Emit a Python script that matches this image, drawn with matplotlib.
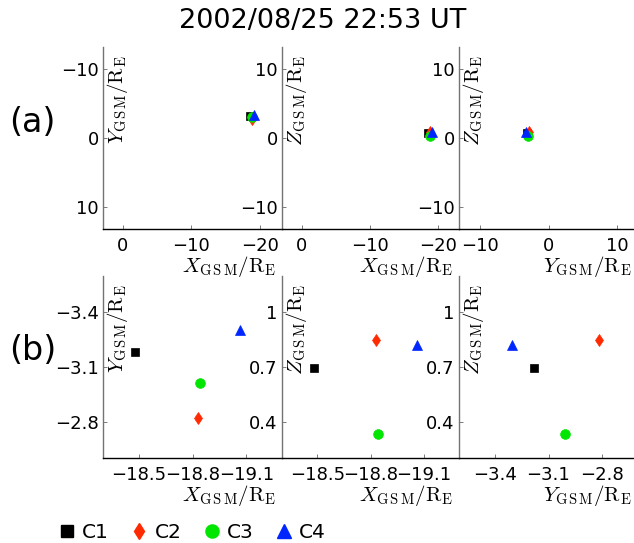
import matplotlib
matplotlib.use("Agg")
import matplotlib.pyplot as plt
from matplotlib.lines import Line2D

plt.rcParams['font.family'] = ['DejaVu Sans']
plt.rcParams['mathtext.fontset'] = 'cm'

title = "2002/08/25 22:53 UT"

# spacecraft positions (GSM, in Earth radii)
sc_names = ["C1", "C2", "C3", "C4"]
x_gsm = [-18.48, -18.83, -18.84, -19.065]
y_gsm = [-3.18, -2.82, -3.01, -3.305]
z_gsm = [0.695, 0.85, 0.33, 0.82]

sc_colors = ["#000000", "#ff2a00", "#00e600", "#0026ff"]
sc_markers = ["s", "d", "o", "^"]
sc_sizes = [6, 6, 7, 7.5]

# row (a) ticks
ticks_a = [-20, -10, 0, 10]
# row (b) ticks
x_ticks_b = [-18.5, -18.8, -19.1]
x_labels_b = ["\u221218.5", "\u221218.8", "\u221219.1"]
y_ticks_b = [-3.4, -3.1, -2.8]
y_labels_b = ["\u22123.4", "\u22123.1", "\u22122.8"]
z_ticks_b = [1.0, 0.7, 0.4]
z_labels_b = ["1", "0.7", "0.4"]

lab_x = r'$X_{\rm G\,S\,M}/{\rm R}_{\rm E}$'
lab_y = r'$Y_{\rm G\,S\,M}/{\rm R}_{\rm E}$'
lab_z = r'$Z_{\rm G\,S\,M}/{\rm R}_{\rm E}$'

fig = plt.figure(figsize=(6.34, 5.43), dpi=100)

W, H = 634.0, 543.0
lefts = [103, 282, 459]
widths = [179, 177, 179]
tops = [47, 276]
ph = 182


def make_ax(row, col):
    l = lefts[col] / W
    b = 1 - (tops[row] + ph) / H
    return fig.add_axes([l, b, widths[col] / W, ph / H])


def style(ax, xl, yl):
    for s in ['top', 'right']:
        ax.spines[s].set_visible(False)
    ax.spines['left'].set_color('0.45')
    ax.spines['bottom'].set_color('black')
    ax.spines['left'].set_linewidth(1.0)
    ax.spines['bottom'].set_linewidth(1.0)
    ax.tick_params(direction='in', length=3, width=0.6, color='0.4', labelsize=13)
    ax.tick_params(axis='x', pad=6)
    ax.tick_params(axis='y', pad=3)
    ax.patch.set_alpha(0)
    ax.text(0.012, 0.956, yl, rotation=90, ha='left', va='top',
            transform=ax.transAxes, fontsize=15)
    ax.text(0.966, -0.135, xl, ha='right', va='top',
            transform=ax.transAxes, fontsize=15)


def scatter(ax, xs, ys):
    for i in range(len(sc_names)):
        ax.plot(xs[i], ys[i], ls='none', marker=sc_markers[i], ms=sc_sizes[i],
                color=sc_colors[i], mec=sc_colors[i], mew=0.5)


pairs = [(x_gsm, y_gsm, lab_x, lab_y), (x_gsm, z_gsm, lab_x, lab_z),
         (y_gsm, z_gsm, lab_y, lab_z)]

# row (a): overview
xlims_a = [(2.9, -23.2), (2.9, -23.1), (-13.1, 13.1)]
ylims_a = [(13.2, -13.2), (-13.2, 13.2), (-13.2, 13.2)]
for col in range(3):
    ax = make_ax(0, col)
    xs, ys, xl, yl = pairs[col]
    scatter(ax, xs, ys)
    ax.set_xticks(ticks_a)
    ax.set_yticks(ticks_a)
    ax.set_xlim(*xlims_a[col])
    ax.set_ylim(*ylims_a[col])
    style(ax, xl, yl)

# row (b): zoom
xlims_b = [(-18.3, -19.3), (-18.3, -19.3), (-3.6, -2.6)]
ylims_b = [(-2.6, -3.6), (0.2, 1.2), (0.2, 1.2)]
xt_b = [(x_ticks_b, x_labels_b), (x_ticks_b, x_labels_b), (y_ticks_b, y_labels_b)]
yt_b = [(y_ticks_b, y_labels_b), (z_ticks_b, z_labels_b), (z_ticks_b, z_labels_b)]
for col in range(3):
    ax = make_ax(1, col)
    xs, ys, xl, yl = pairs[col]
    scatter(ax, xs, ys)
    ax.set_xlim(*xlims_b[col])
    ax.set_ylim(*ylims_b[col])
    ax.set_xticks(xt_b[col][0], xt_b[col][1])
    ax.set_yticks(yt_b[col][0], yt_b[col][1])
    style(ax, xl, yl)

fig.text(0.509, 0.962, title, ha='center', va='center', fontsize=19.5)
fig.text(0.051, 0.775, '(a)', ha='center', va='center', fontsize=24)
fig.text(0.051, 0.355, '(b)', ha='center', va='center', fontsize=24)

handles = [Line2D([], [], ls='none', marker=sc_markers[i], ms=sc_sizes[i] * 1.35,
                  color=sc_colors[i]) for i in range(len(sc_names))]
fig.legend(handles, sc_names, loc='center left', bbox_to_anchor=(0.09, 0.02),
           ncol=4, frameon=False, fontsize=14.5, handlelength=1.0,
           handletextpad=0.25, columnspacing=1.0, borderpad=0, borderaxespad=0)

fig.savefig('out.png', dpi=100)
